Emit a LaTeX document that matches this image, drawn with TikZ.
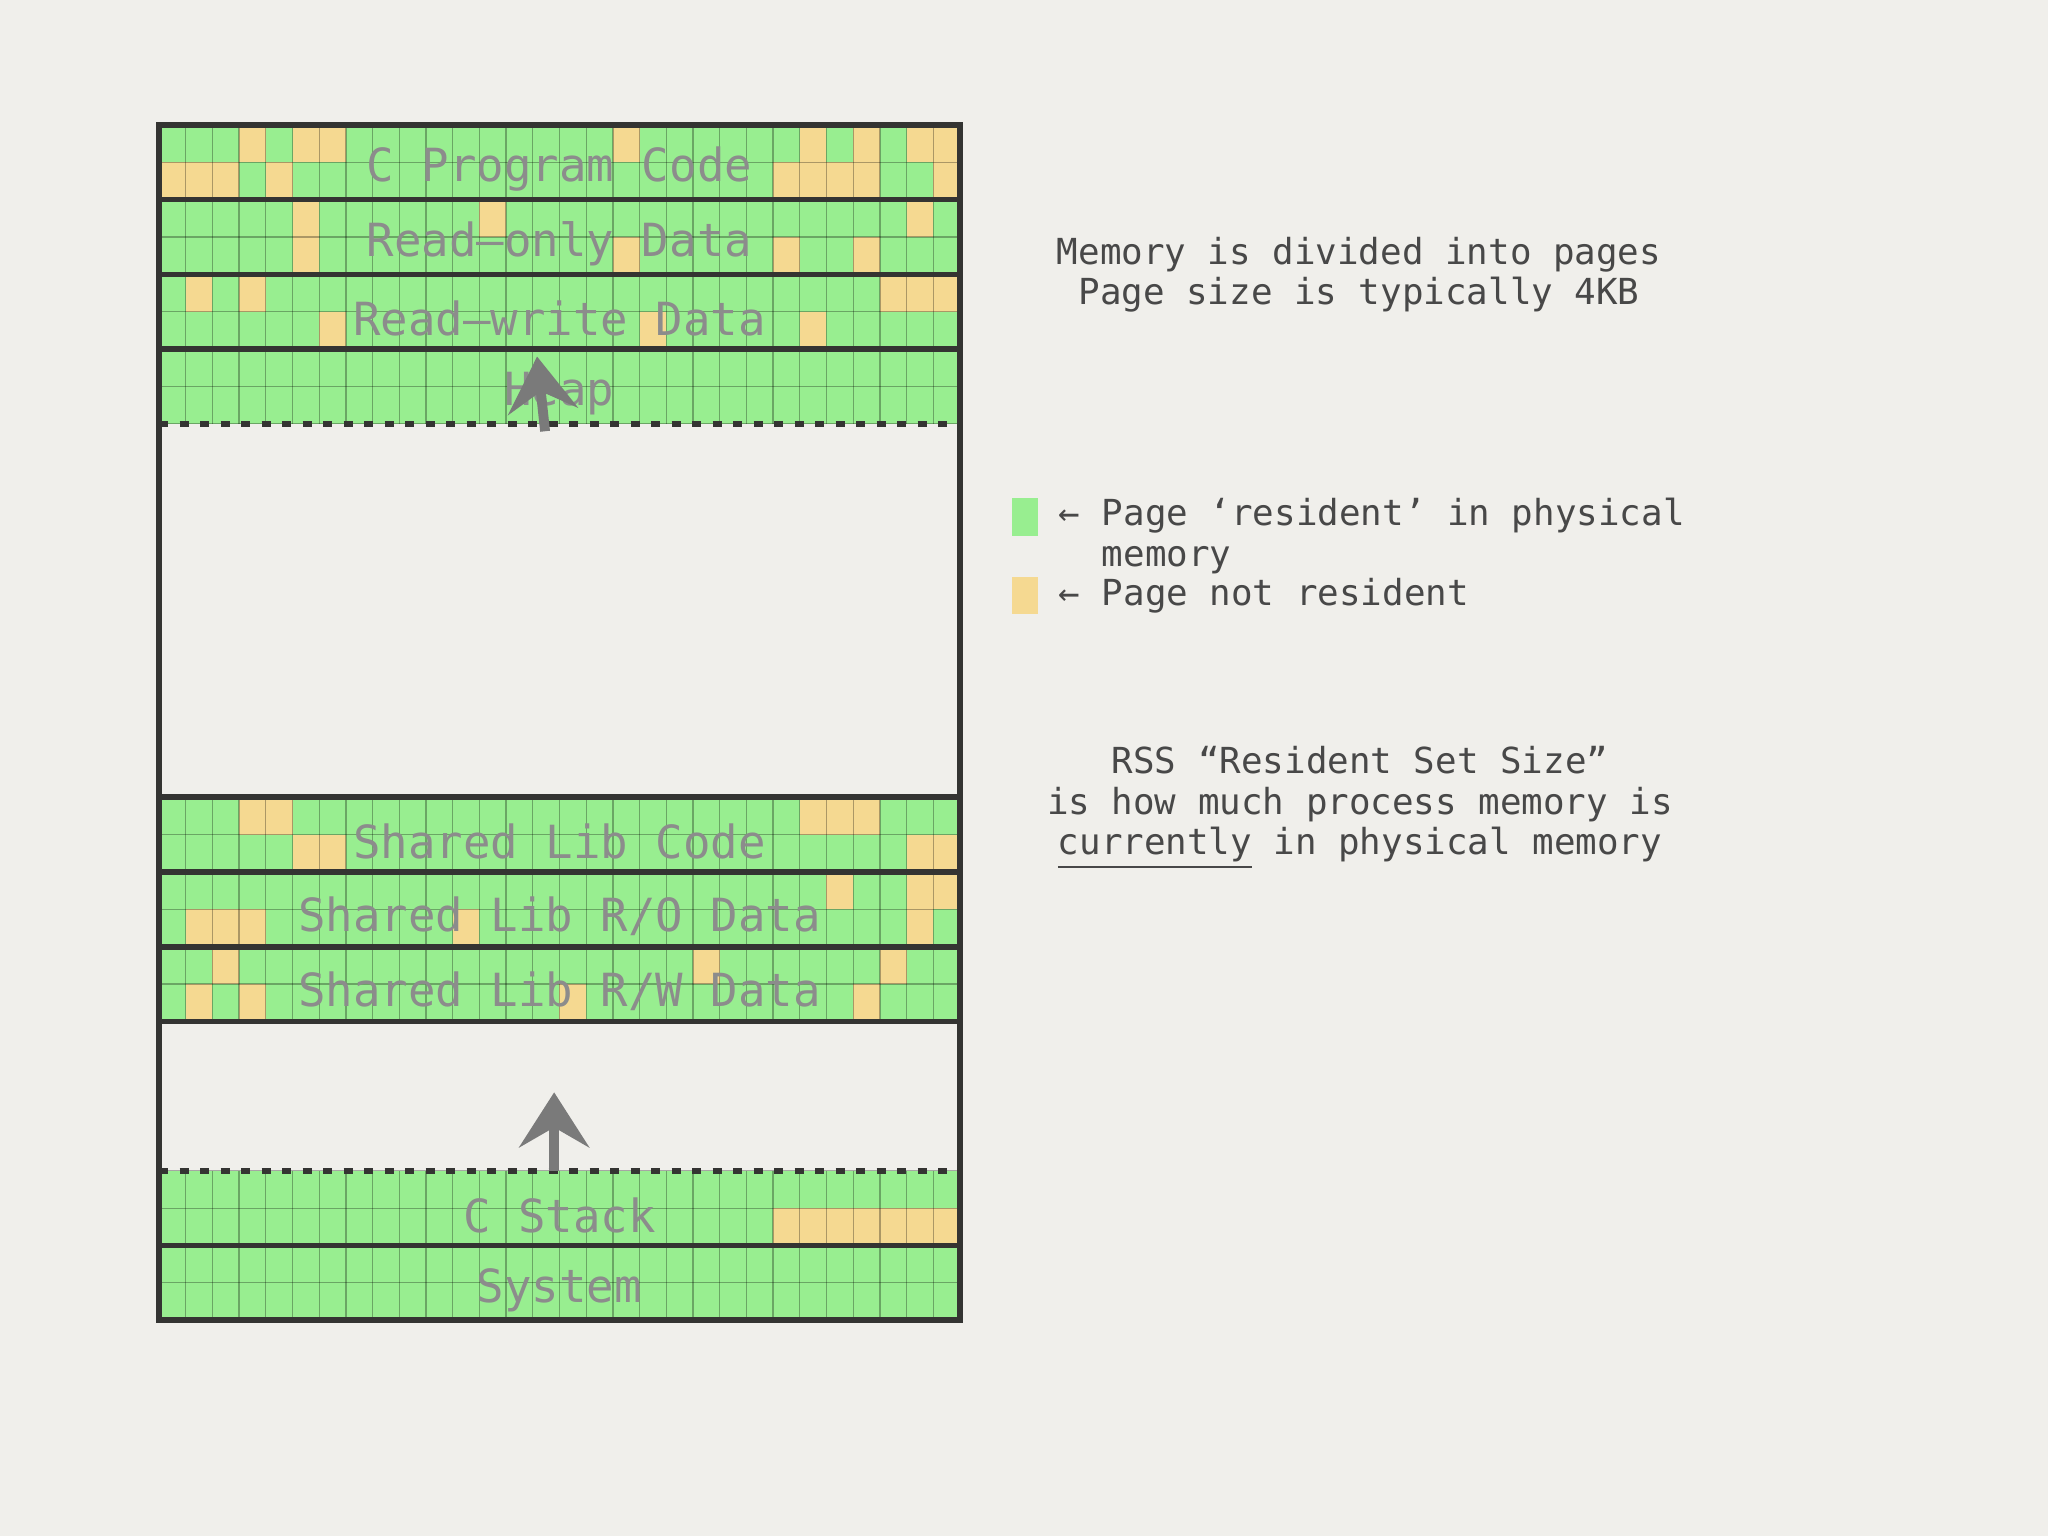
\documentclass[tikz,border=0pt]{standalone}
\usepackage{fontspec}
\setmonofont{DejaVu Sans Mono}
\usetikzlibrary{positioning,arrows.meta}

\definecolor{paper}{RGB}{240,239,235}
\definecolor{resident}{RGB}{152,238,144}
\definecolor{swapped}{RGB}{245,217,145}
\definecolor{framegray}{RGB}{52,52,50}
\definecolor{labelgray}{RGB}{140,140,140}
\definecolor{notegray}{RGB}{72,72,72}
\definecolor{arrowgray}{RGB}{122,122,122}

\begin{document}
\begin{tikzpicture}[
    page/.style={fill=resident},
    gone/.style={fill=swapped},
    seam/.style={draw=black, opacity=0.3, line width=0.35pt},
    wall/.style={draw=framegray, line width=1.6pt},
    cut/.style={draw=framegray, line width=1.6pt, dash pattern=on 0.09cm off 0.115cm},
    region/.style={font=\ttfamily\fontsize{13}{15}\selectfont, text=labelgray, yshift=-0.07cm},
    memo/.style={font=\ttfamily\fontsize{10.2}{11.5}\selectfont, text=notegray, align=center},
    growth/.style={draw=arrowgray, line width=2.8pt, -{Stealth[length=5.5mm,width=7mm,inset=2mm]}},
    key/.style={minimum width=0.267cm, minimum height=0.3735cm}]
  \tikzstyle{every node}=[inner sep=0pt]

  \fill[paper] (0,0) rectangle (20.48,15.36);
  \useasboundingbox (0,0) rectangle (20.48,15.36);

  % address space, one unit per page
  \begin{scope}[shift={(1.59,14.11)}, x=0.267cm, y=-0.3735cm]
    \foreach \top/\bot in {0/8, 18/24, 28/32}
      \fill[page] (0,\top) rectangle (30,\bot);
    \foreach \r/\cols in {0/{3,5,6,17,24,26,28,29}, 1/{0,1,2,4,23,24,25,26,29},
        2/{5,12,28}, 3/{5,17,23,26}, 4/{1,3,27,28,29}, 5/{6,18,24},
        18/{3,4,24,25,26}, 19/{5,6,28,29}, 20/{25,28,29}, 21/{1,2,3,11,28},
        22/{2,20,27}, 23/{1,3,15,26}, 29/{23,24,25,26,27,28,29}}
      \foreach \c in \cols
        \fill[gone] (\c,\r) rectangle +(1,1);
    \foreach \top/\bot in {0/8, 18/24, 28/32} {
      \foreach \c in {1,...,29}
        \draw[seam] (\c,\top) -- (\c,\bot);
      \foreach \r in {\top,...,\bot}
        \draw[seam] (0,\r) -- (30,\r);
    }
    \foreach \r in {2,4,6,18,20,22,24,30}
      \draw[wall] (0,\r) -- (30,\r);
    \draw[cut] (0,8) -- (30,8);
    \draw[cut] (0,28) -- (30,28);
    \draw[wall] (0,0) rectangle (30,32);

    \foreach \r/\name in {1/{C Program Code}, 3/{Read–only Data}, 5/{Read–write Data},
        7/Heap, 19/{Shared Lib Code}, 21/{Shared Lib R/O Data},
        23/{Shared Lib R/W Data}, 29/{C Stack}, 31/System}
      \node[region] (seg\r) at (15,\r) {\name};

    \coordinate (heapfoot) at (14.46,8.2);
    \coordinate (heaptip) at (14.16,6.2);
    \draw[growth] (heapfoot) -- (heaptip);
    \coordinate (stackfoot) at (14.8,28);
    \coordinate (stacktip) at (14.8,25.9);
    \draw[growth] (stackfoot) -- (stacktip);
  \end{scope}

  \node[memo] (pages) at (13.59,12.61) {Memory is divided into pages\\Page size is typically 4KB};

  \node[key, fill=resident] (keyin) at (10.25,10.19) {};
  \node[key, fill=swapped, below=0.4cm of keyin] (keyout) {};
  \node[memo, align=left, anchor=north west] (keyinnote) at ([xshift=0.19cm]keyin.north east)
    {← Page ‘resident’ in physical\\\phantom{← }memory};
  \node[memo, align=left, right=0.19cm of keyout] (keyoutnote) {← Page not resident};

  \node[memo] (rss) at (13.60,7.28)
    {RSS “Resident Set Size”\\is how much process memory is\\\underline{currently} in physical memory};
\end{tikzpicture}
\end{document}
